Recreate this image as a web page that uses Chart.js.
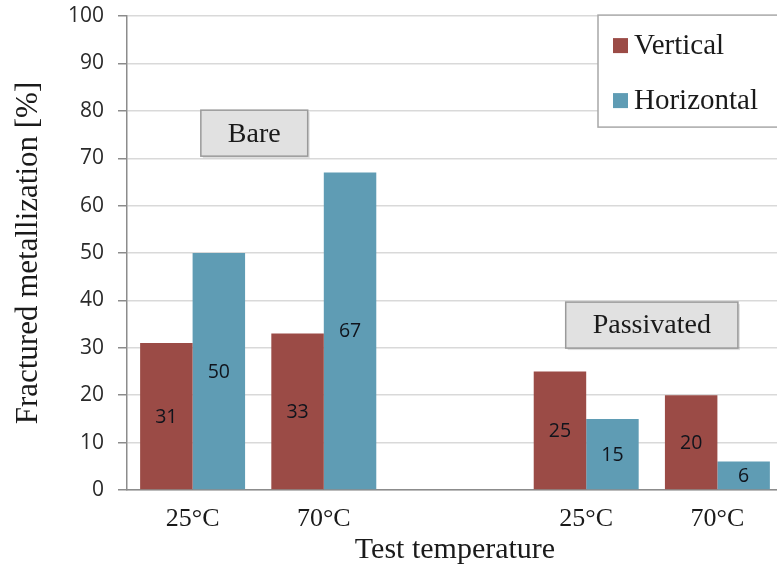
<!DOCTYPE html>
<html lang="en">
<head>
    <meta charset="UTF-8">
    <title>Fractured metallization</title>
    <script src="https://cdn.jsdelivr.net/npm/chart.js@4.4.1/dist/chart.umd.min.js"></script>
    <style>
        html, body {
            margin: 0;
            padding: 0;
            background: #ffffff;
            overflow: hidden;
        }
        #wrap {
            width: 786px;
            height: 571px;
        }
    </style>
</head>
<body>
    <div id="wrap"><canvas id="chart"></canvas></div>

    <script>
        // data
        const temperatures = ['25°C', '70°C', '', '25°C', '70°C'];
        const verticalValues = [31, 33, null, 25, 20];
        const horizontalValues = [50, 67, null, 15, 6];
        const yTicks = [0, 10, 20, 30, 40, 50, 60, 70, 80, 90, 100];
        const groupLabels = ['Bare', 'Passivated'];
        const groupCenters = [0.47, 3.5];     // category position of each label box
        const groupLevels = [75.3, 34.8];     // y value of each label box centre

        const serif = '"Liberation Serif", "Times New Roman", serif';
        const sans = '"Open Sans", Arial, sans-serif';

        // value printed in the middle of every bar
        const barValues = {
            id: 'barValues',
            afterDatasetsDraw(chart) {
                const ctx = chart.ctx;
                ctx.save();
                ctx.font = '19.5px ' + sans;
                ctx.fillStyle = '#10141c';
                ctx.textAlign = 'center';
                ctx.textBaseline = 'middle';
                chart.data.datasets.forEach((ds, i) => {
                    chart.getDatasetMeta(i).data.forEach((bar, j) => {
                        if (ds.data[j] == null) return;
                        ctx.fillText(ds.data[j], bar.x, (bar.y + bar.base) / 2 + 1);
                    });
                });
                ctx.restore();
            }
        };

        // grey "Bare" / "Passivated" boxes
        const groupBoxes = {
            id: 'groupBoxes',
            afterDatasetsDraw(chart) {
                const ctx = chart.ctx;
                const x = chart.scales.x, y = chart.scales.y;
                ctx.save();
                ctx.font = '28px ' + serif;
                groupLabels.forEach((txt, i) => {
                    const cx = x.getPixelForValue(groupCenters[i]);
                    const cy = y.getPixelForValue(groupLevels[i]);
                    const w = ctx.measureText(txt).width + 54;
                    const h = 46;
                    ctx.fillStyle = 'rgba(0,0,0,0.12)';
                    ctx.fillRect(cx - w / 2 + 2, cy - h / 2 + 2, w, h);
                    ctx.fillStyle = '#e1e1e1';
                    ctx.fillRect(cx - w / 2, cy - h / 2, w, h);
                    ctx.strokeStyle = '#9a9a9a';
                    ctx.lineWidth = 1.5;
                    ctx.strokeRect(cx - w / 2, cy - h / 2, w, h);
                    ctx.fillStyle = '#1a1a1a';
                    ctx.textAlign = 'center';
                    ctx.textBaseline = 'middle';
                    ctx.fillText(txt, cx, cy + 1);
                });
                ctx.restore();
            }
        };

        // legend box in the top right corner
        const boxLegend = {
            id: 'boxLegend',
            afterDraw(chart) {
                const ctx = chart.ctx;
                const area = chart.chartArea;
                const left = area.right - 185, top = area.top - 1;
                ctx.save();
                ctx.fillStyle = '#ffffff';
                ctx.fillRect(left, top, 200, 112);
                ctx.strokeStyle = '#a8a8a8';
                ctx.lineWidth = 1.5;
                ctx.strokeRect(left, top, 200, 112);
                ctx.font = '29px ' + serif;
                ctx.textBaseline = 'middle';
                chart.data.datasets.forEach((ds, i) => {
                    const cy = top + 30 + i * 55;
                    ctx.fillStyle = ds.backgroundColor;
                    ctx.fillRect(left + 15, cy - 7, 15, 15);
                    ctx.fillStyle = '#1a1a1a';
                    ctx.fillText(ds.label, left + 36, cy + 1);
                });
                ctx.restore();
            }
        };

        new Chart(document.getElementById('chart'), {
            type: 'bar',
            data: {
                labels: temperatures,
                datasets: [
                    { label: 'Vertical', data: verticalValues, backgroundColor: '#9b4b46' },
                    { label: 'Horizontal', data: horizontalValues, backgroundColor: '#5f9cb4' }
                ]
            },
            options: {
                responsive: true,
                maintainAspectRatio: false,
                animation: false,
                layout: { padding: { top: 0, right: 3, left: 0, bottom: 0 } },
                plugins: {
                    legend: { display: false },
                    tooltip: { enabled: false }
                },
                datasets: {
                    bar: { categoryPercentage: 0.8, barPercentage: 1.0 }
                },
                scales: {
                    x: {
                        grid: { display: false, drawTicks: false },
                        border: { display: true, color: '#8c8c8c', width: 1.5 },
                        ticks: {
                            padding: 14,
                            color: '#1a1a1a',
                            font: { family: serif, size: 26 }
                        },
                        title: {
                            display: true,
                            text: 'Test temperature',
                            color: '#1a1a1a',
                            font: { family: serif, size: 30 },
                            padding: { top: 0, bottom: 3 }
                        },
                        afterFit(s) { s.height = 81; }
                    },
                    y: {
                        min: 0,
                        max: 100,
                        afterBuildTicks(s) { s.ticks = yTicks.map(v => ({ value: v })); },
                        grid: {
                            color: '#d9d9d9',
                            lineWidth: 1.5,
                            tickColor: '#8c8c8c',
                            tickLength: 9
                        },
                        border: { display: true, color: '#8c8c8c', width: 1.5 },
                        ticks: {
                            padding: 14,
                            color: '#2a2a2a',
                            font: { family: sans, size: 21, lineHeight: 0.2 }
                        },
                        title: {
                            display: true,
                            text: 'Fractured metallization [%]',
                            color: '#1a1a1a',
                            font: { family: serif, size: 31 },
                            padding: { top: 10, bottom: 0 }
                        },
                        afterFit(s) { s.width = 127; }
                    }
                }
            },
            plugins: [barValues, groupBoxes, boxLegend]
        });
    </script>
</body>
</html>
